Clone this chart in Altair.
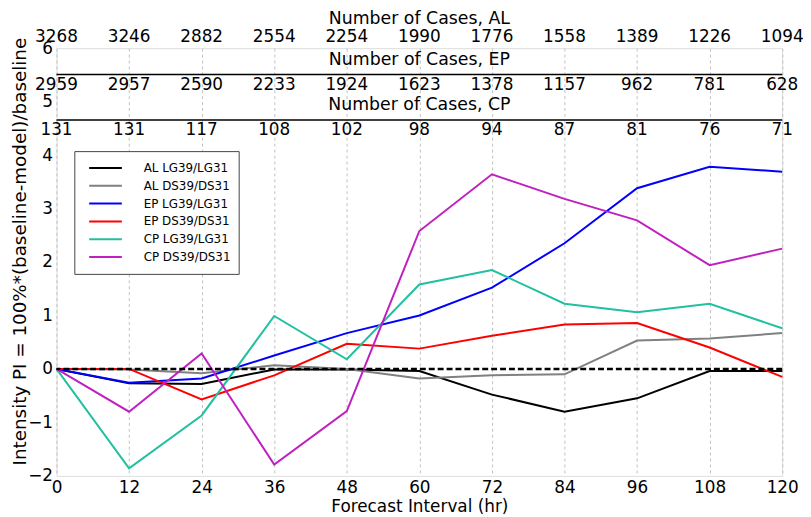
import altair as alt
import pandas as pd

hours = [0, 12, 24, 36, 48, 60, 72, 84, 96, 108, 120]
series_names = ["AL LG39/LG31", "AL DS39/DS31", "EP LG39/LG31",
                "EP DS39/DS31", "CP LG39/LG31", "CP DS39/DS31"]
al_lg = [0, -0.27, -0.28, -0.01, -0.01, -0.04, -0.48, -0.80, -0.55, -0.04, -0.04]
al_ds = [0, -0.01, -0.08, 0.07, 0.0, -0.18, -0.12, -0.10, 0.53, 0.57, 0.67]
ep_lg = [0, -0.26, -0.18, 0.25, 0.67, 1.00, 1.52, 2.35, 3.38, 3.78, 3.69]
ep_ds = [0, 0.0, -0.57, -0.12, 0.47, 0.38, 0.62, 0.83, 0.86, 0.40, -0.15]
cp_lg = [0, -1.86, -0.87, 0.99, 0.18, 1.58, 1.85, 1.22, 1.06, 1.22, 0.76]
cp_ds = [0, -0.80, 0.29, -1.79, -0.79, 2.58, 3.64, 3.18, 2.78, 1.94, 2.25]
colors = ["#000000", "#808080", "#0000ff", "#ff0000", "#20c0a0", "#c020c0"]

cases_al = [3268, 3246, 2882, 2554, 2254, 1990, 1776, 1558, 1389, 1226, 1094]
cases_ep = [2959, 2957, 2590, 2233, 1924, 1623, 1378, 1157, 962, 781, 628]
cases_cp = [131, 131, 117, 108, 102, 98, 94, 87, 81, 76, 71]
case_titles = ["Number of Cases, AL", "Number of Cases, EP", "Number of Cases, CP"]

FONT = "DejaVu Sans"

rows = []
for name, vals in zip(series_names, [al_lg, al_ds, ep_lg, ep_ds, cp_lg, cp_ds]):
    for h, v in zip(hours, vals):
        rows.append({"hour": h, "value": v, "series": name})
df = pd.DataFrame(rows)
cases = pd.DataFrame({"hour": hours, "AL": cases_al, "EP": cases_ep, "CP": cases_cp})

x_scale = alt.Scale(domain=[0, 120], nice=False, zero=False)
y_scale = alt.Scale(domain=[-2, 6], nice=False, zero=False)

lines = alt.Chart(df).mark_line(strokeWidth=2).encode(
    x=alt.X("hour:Q", scale=x_scale,
            axis=alt.Axis(values=hours, title="Forecast Interval (hr)", grid=True,
                          gridDash=[3, 3], gridColor="#c0c0c0", gridWidth=1,
                          ticks=False, domain=False, labelFont=FONT, labelFontSize=17,
                          labelColor="black", labelPadding=4, labelFlush=False,
                          labelOverlap=False, titleFont=FONT,
                          titleFontSize=17, titleFontWeight="normal", titleColor="black",
                          titlePadding=3)),
    y=alt.Y("value:Q", scale=y_scale,
            axis=alt.Axis(values=list(range(-2, 7)),
                          title="Intensity PI = 100%*(baseline-model)/baseline",
                          grid=False, ticks=False, domain=False, labelFont=FONT,
                          labelFontSize=17, labelColor="black", labelPadding=4,
                          labelFlush=False, labelOverlap=False,
                          titleFont=FONT, titleFontSize=18.5,
                          titleFontWeight="normal", titleColor="black",
                          titleX=-37, titleY=205, titleBaseline="middle",
                          titleAngle=270)),
    color=alt.Color("series:N", scale=alt.Scale(domain=series_names, range=colors),
                    sort=series_names,
                    legend=alt.Legend(title=None, orient="none", legendX=18, legendY=104,
                                      symbolType="stroke", symbolSize=1089,
                                      symbolStrokeWidth=2, symbolOffset=6,
                                      clipHeight=18, rowPadding=0,
                                      labelFont=FONT, labelFontSize=12, labelOffset=21,
                                      padding=8, strokeColor="#444",
                                      fillColor="white", cornerRadius=0,
                                      labelLimit=300)),
)

zero_line = alt.Chart(pd.DataFrame({"y0": [0]})).mark_rule(
    color="black", strokeDash=[6, 3], strokeWidth=2.5).encode(y=alt.Y("y0:Q", scale=y_scale))

sep = alt.Chart(pd.DataFrame({"ys": [5.509, 4.657]})).mark_rule(
    color="black", strokeWidth=1.5).encode(y=alt.Y("ys:Q", scale=y_scale))

def row(col, yv):
    return alt.Chart(cases).mark_text(font=FONT, fontSize=17, baseline="middle",
                                      color="black").encode(
        x=alt.X("hour:Q", scale=x_scale), y=alt.datum(yv), text=alt.Text(f"{col}:N"))

titles = alt.Chart(pd.DataFrame({"t": case_titles, "yt": [6.546, 5.769, 4.935]})).mark_text(
    font=FONT, fontSize=17.5, baseline="middle", color="black").encode(
    x=alt.datum(60), y=alt.Y("yt:Q", scale=y_scale), text="t:N")

chart = alt.layer(
    lines, zero_line, sep, row("AL", 6.213), row("EP", 5.306), row("CP", 4.472), titles
).properties(
    width=733, height=432,
    autosize=alt.AutoSizeParams(type="none"),
    padding={"left": 49, "top": 38, "right": 21, "bottom": 39},
).configure_view(stroke="#a0a0a0", strokeWidth=1).configure(background="white")

chart.save("out.html", embed_options={"renderer": "svg", "actions": False})
